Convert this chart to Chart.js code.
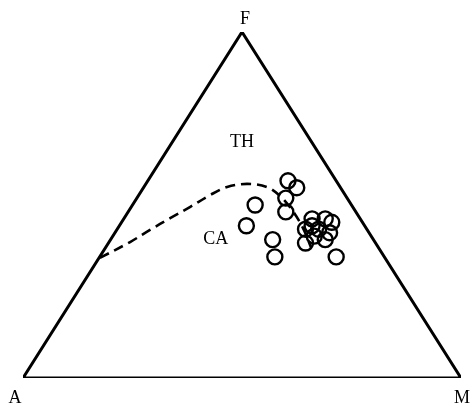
<!DOCTYPE html>
<html>
<head>
<meta charset="utf-8">
<script src="https://cdn.jsdelivr.net/npm/chart.js@4/dist/chart.umd.min.js"></script>
<style>
html,body{margin:0;padding:0;background:#fff;}
#wrap{width:473px;height:406px;position:relative;}
</style>
</head>
<body>
<div id="wrap"><canvas id="c" width="473" height="406"></canvas></div>
<script>
// Sample compositions (percent A, F, M)
const sampleA = [11, 10, 14, 22, 16, 27, 23, 25, 11, 11, 8, 7, 14, 11, 9, 11, 16, 13, 12];
const sampleF = [57, 55, 52, 50, 48, 44, 40, 35, 35, 46, 46, 45, 43, 43, 42, 40, 39, 41, 44];
const sampleM = [32, 35, 34, 28, 36, 29, 37, 40, 54, 43, 46, 48, 43, 46, 49, 49, 45, 46, 44];

// Tholeiitic / calc-alkaline dividing line (percent A, F, M)
const divA = [65.1, 55.9, 49.6, 43.3, 37.2, 30.8, 25.8, 20.8, 16.7, 15.0, 14.3, 14.4, 15.4];
const divF = [34.7, 39.3, 42.8, 46.2, 49.4, 52.9, 55.2, 56.1, 55.2, 52.6, 48.6, 43.4, 37.6];
const divM = [0.2, 4.8, 7.6, 10.5, 13.4, 16.3, 19.0, 23.1, 28.1, 32.4, 37.1, 42.2, 47.0];

// Triangle vertices (A, F, M corners)
const vertexNames = ['A', 'F', 'M'];
const vertA = [100, 0, 0];
const vertF = [0, 100, 0];
const vertM = [0, 0, 100];

// Field labels
const fieldNames = ['TH', 'CA'];
const fieldA = [16, 36];
const fieldF = [68, 40];
const fieldM = [16, 24];

function toXY(a, f, m) {
  const s = a + f + m;
  const F = f / s, M = m / s;
  return { x: M + F / 2, y: F };
}
const pts = sampleA.map((a, i) => toXY(a, sampleF[i], sampleM[i]));
const divPts = divA.map((a, i) => toXY(a, divF[i], divM[i]));
const tri = [0, 1, 2, 0].map(i => toXY(vertA[i], vertF[i], vertM[i]));

const labelPlugin = {
  id: 'labels',
  afterDatasetsDraw(chart) {
    const ctx = chart.ctx;
    const xs = chart.scales.x, ys = chart.scales.y;
    ctx.save();
    ctx.fillStyle = '#000';
    ctx.font = '18px "Liberation Serif", "DejaVu Serif", serif';
    ctx.textAlign = 'center';
    ctx.textBaseline = 'middle';
    fieldNames.forEach((n, i) => {
      const p = toXY(fieldA[i], fieldF[i], fieldM[i]);
      ctx.fillText(n, xs.getPixelForValue(p.x), ys.getPixelForValue(p.y));
    });
    const offs = [[-8, 20], [3, -13], [1, 20]];
    vertexNames.forEach((n, i) => {
      const p = toXY(vertA[i], vertF[i], vertM[i]);
      ctx.fillText(n, xs.getPixelForValue(p.x) + offs[i][0], ys.getPixelForValue(p.y) + offs[i][1]);
    });
    ctx.restore();
  }
};

new Chart(document.getElementById('c'), {
  type: 'scatter',
  data: {
    datasets: [
      { data: tri, showLine: true, borderColor: '#000', borderWidth: 3, borderJoinStyle: 'miter', pointRadius: 0, fill: false, tension: 0 },
      { data: divPts, showLine: true, borderColor: '#000', borderWidth: 2.6, borderDash: [10, 6], pointRadius: 0, fill: false, tension: 0.35 },
      { data: pts, showLine: false, pointRadius: 7.5, pointBorderWidth: 2.4, pointBorderColor: '#000', pointBackgroundColor: 'rgba(0,0,0,0)' }
    ]
  },
  options: {
    responsive: false,
    animation: false,
    layout: { padding: { left: 23, right: 12, top: 32, bottom: 28 } },
    plugins: { legend: { display: false }, tooltip: { enabled: false } },
    scales: {
      x: { type: 'linear', min: 0, max: 1, display: false },
      y: { type: 'linear', min: 0, max: 1, display: false }
    }
  },
  plugins: [labelPlugin]
});
</script>
</body>
</html>
